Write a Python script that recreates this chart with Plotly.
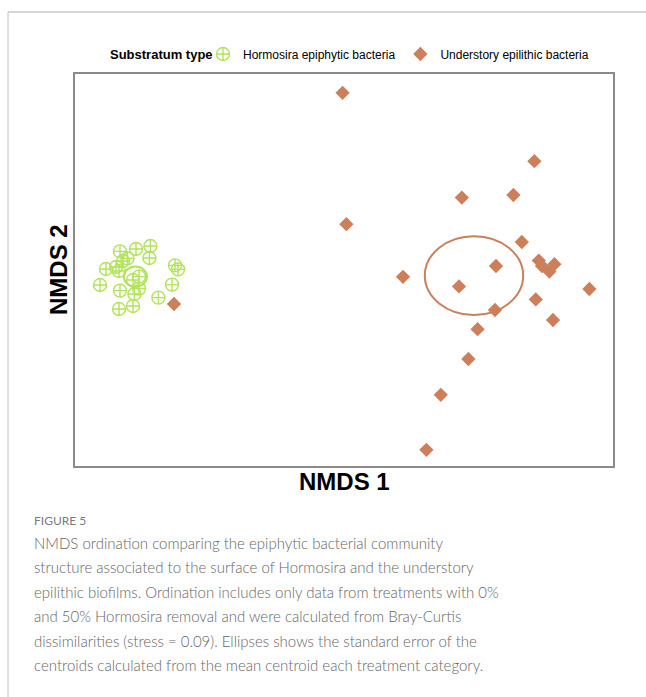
import plotly.graph_objects as go

# NMDS scores per sample
hormosira_x = [-1.075, -0.995, -0.923, -1.038, -1.060, -0.928, -1.145, -1.095, -1.080,
               -0.800, -0.785, -1.175, -1.075, -1.010, -0.980, -0.980, -1.003, -0.815,
               -0.883, -1.080, -1.010]
hormosira_y = [0.113, 0.125, 0.140, 0.078, 0.065, 0.080, 0.025, 0.035, 0.015,
               0.043, 0.023, -0.055, -0.083, -0.030, -0.013, -0.073, -0.100, -0.053,
               -0.118, -0.175, -0.160]

understory_x = [0.038, 0.057, 0.997, 0.634, 0.892, 0.934, 0.805, 0.340, 0.620, 1.019,
                1.035, 1.097, 1.072, 1.272, 1.004, 0.800, 1.090, 0.713, 0.667, 0.529,
                0.457, -0.805]
understory_y = [0.906, 0.249, 0.564, 0.382, 0.395, 0.160, 0.040, -0.014, -0.062, 0.067,
                0.040, 0.049, 0.012, -0.075, -0.127, -0.180, -0.230, -0.276, -0.425, -0.604,
                -0.879, -0.150]

# Centroid standard-error ellipses: centre (x, y) and semi-axes (a, b)
ellipse_hormosira = (-0.998, -0.013, 0.058, 0.050)
ellipse_understory = (0.695, -0.008, 0.246, 0.197)

series_names = ["Hormosira epiphytic bacteria", "Understory epilithic bacteria"]
legend_title = "Substratum type"
x_title = "NMDS 1"
y_title = "NMDS 2"
figure_label = "FIGURE 5"
caption_lines = [
    "NMDS ordination comparing the epiphytic bacterial community",
    "structure associated to the surface of Hormosira and the understory",
    "epilithic biofilms. Ordination includes only data from treatments with 0%",
    "and 50% Hormosira removal and were calculated from Bray-Curtis",
    "dissimilarities (stress = 0.09). Ellipses shows the standard error of the",
    "centroids calculated from the mean centroid each treatment category.",
]

GREEN = "#b2e35a"
ORANGE = "#cd7f5c"

W, H = 646, 697
L, R, T, B = 75, 33, 74, 231
PW, PH = W - L - R, H - T - B


def px(x):
    return (x - L) / PW


def py(y):
    return (H - B - y) / PH


fig = go.Figure()
fig.add_trace(go.Scatter(
    x=hormosira_x, y=hormosira_y, mode="markers", name=series_names[0],
    marker=dict(symbol="circle-cross-open", size=13, color=GREEN,
                line=dict(width=1.4, color=GREEN)),
))
fig.add_trace(go.Scatter(
    x=understory_x, y=understory_y, mode="markers", name=series_names[1],
    marker=dict(symbol="diamond", size=11, color=ORANGE, line=dict(width=0)),
))

shapes = []
for (cx, cy, a, b), col in [(ellipse_hormosira, GREEN), (ellipse_understory, ORANGE)]:
    shapes.append(dict(type="circle", xref="x", yref="y",
                       x0=cx - a, x1=cx + a, y0=cy - b, y1=cy + b,
                       line=dict(color=col, width=2)))

# page frame lines
shapes.append(dict(type="line", xref="paper", yref="paper",
                   x0=px(8), x1=px(646), y0=py(12), y1=py(12),
                   line=dict(color="#d6d6d6", width=2)))
shapes.append(dict(type="line", xref="paper", yref="paper",
                   x0=px(8), x1=px(8), y0=py(12), y1=py(697),
                   line=dict(color="#c4c4c4", width=1)))

annotations = [
    dict(text=f"<b>{legend_title}</b>", x=px(108), y=py(54), xref="paper", yref="paper",
         xanchor="left", yanchor="middle", showarrow=False,
         font=dict(family="Liberation Sans, Arial", size=13, color="#000")),
    dict(text=f"<b>{x_title}</b>", x=px(344), y=py(481), xref="paper", yref="paper",
         xanchor="center", yanchor="middle", showarrow=False,
         font=dict(family="Liberation Sans, Arial", size=24, color="#000")),
    dict(text=f"<b>{y_title}</b>", x=px(58), y=py(270), xref="paper", yref="paper",
         xanchor="center", yanchor="middle", showarrow=False, textangle=-90,
         font=dict(family="Liberation Sans, Arial", size=24, color="#000")),
    dict(text=figure_label, x=px(32), y=py(520), xref="paper", yref="paper",
         xanchor="left", yanchor="middle", showarrow=False,
         font=dict(family="Lato, Open Sans", size=12, color="#7a7a7a")),
]
for i, line in enumerate(caption_lines):
    annotations.append(dict(
        text=line, x=px(32), y=py(543 + i * 24.4), xref="paper", yref="paper",
        xanchor="left", yanchor="middle", showarrow=False,
        font=dict(family="Lato, Open Sans", size=15, color="#666666", weight=300)))

axis_common = dict(showgrid=False, zeroline=False, showticklabels=False, ticks="",
                   showline=True, mirror=True, linecolor="#8a8a8a", linewidth=1.5)

fig.update_layout(
    width=W, height=H,
    margin=dict(l=L, r=R, t=T, b=B),
    paper_bgcolor="white", plot_bgcolor="white",
    xaxis=dict(range=[-1.3, 1.39], **axis_common),
    yaxis=dict(range=[-0.96, 1.0], **axis_common),
    showlegend=True,
    legend=dict(orientation="h", x=px(203), xanchor="left", y=py(54), yanchor="middle",
                font=dict(family="Liberation Sans, Arial", size=12, color="#000"),
                itemwidth=30, bgcolor="rgba(0,0,0,0)"),
    shapes=shapes,
    annotations=annotations,
)

fig.write_html("out.html")
